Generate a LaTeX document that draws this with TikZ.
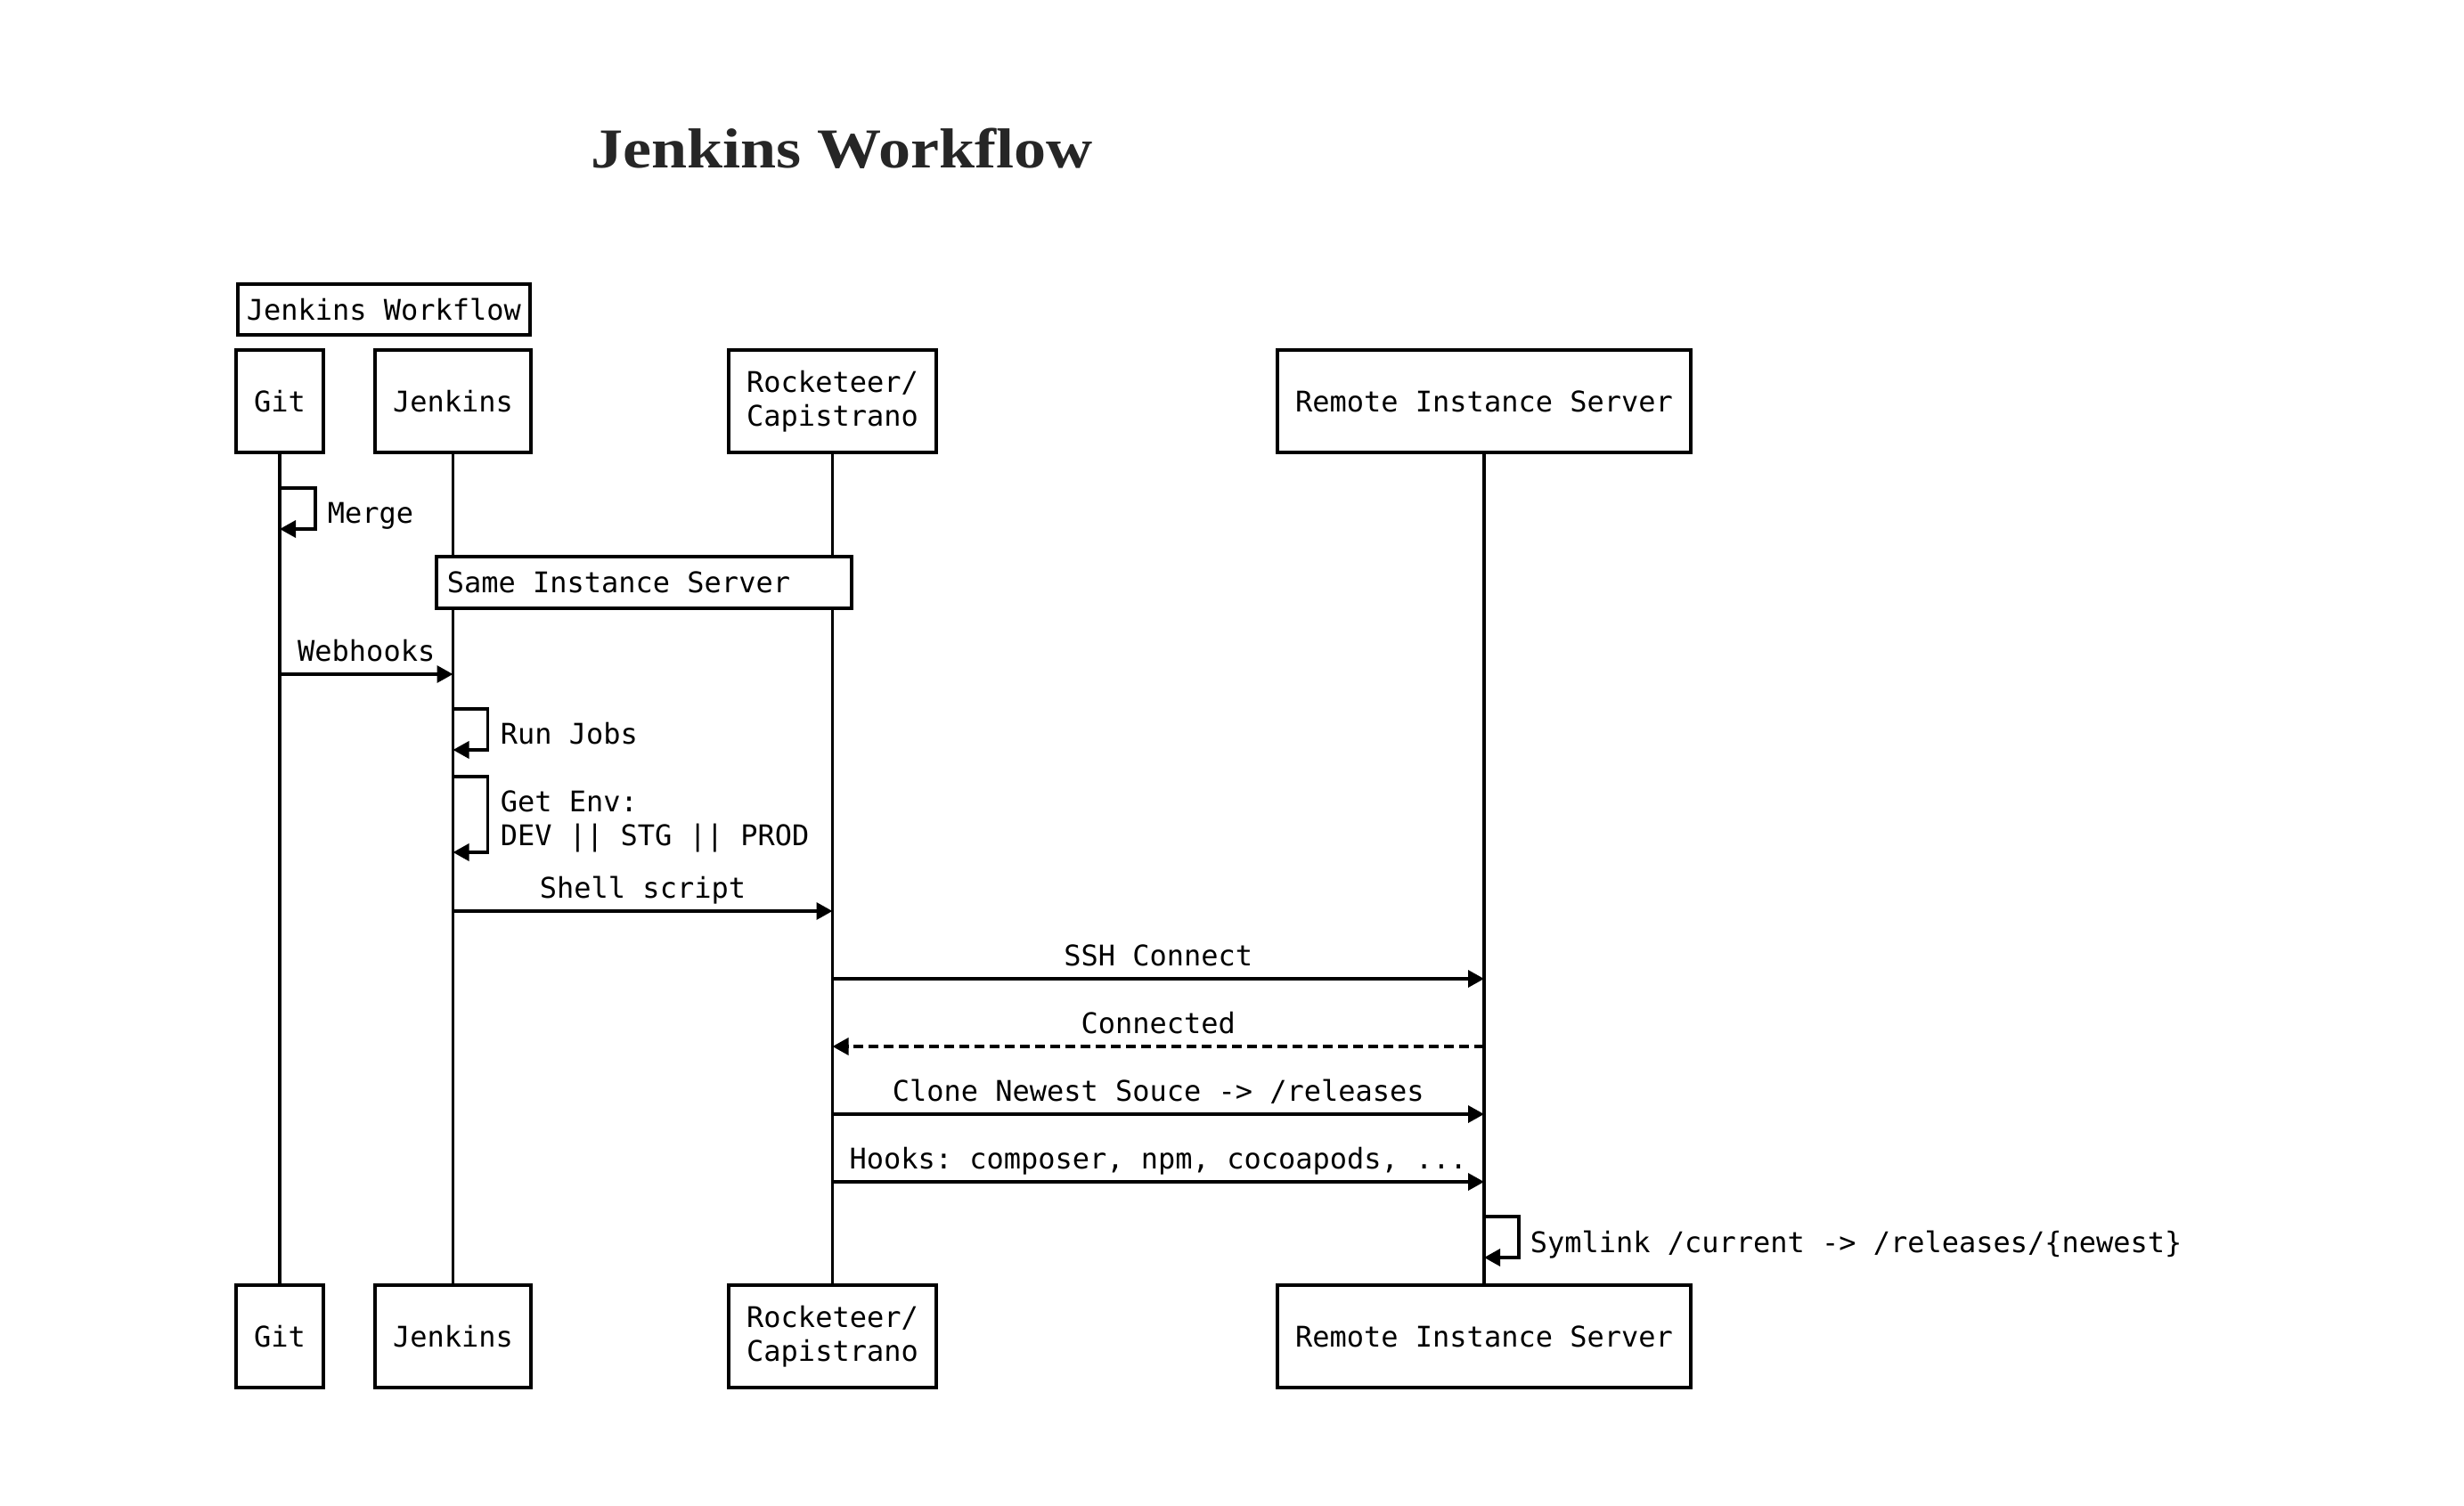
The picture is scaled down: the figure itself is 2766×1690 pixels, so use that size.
\documentclass[tikz,border=0pt]{standalone}
\usepackage{fontspec}
\usepackage{graphicx}
\setmonofont{DejaVu Sans Mono}
\newfontfamily\titlefont{Liberation Serif}
\usetikzlibrary{arrows.meta}
\newcommand\seqfont{\fontsize{9.1}{10.8}\selectfont\ttfamily}
\tikzset{
  actor/.style={draw, line width=1.1pt, minimum height=11.5mm, inner xsep=2mm, align=center, font=\seqfont},
  note box/.style={draw, line width=1.1pt, fill=white, minimum height=5.7mm, inner xsep=1mm, font=\seqfont},
  msg/.style={line width=1pt, -{Triangle[length=1.8mm, width=1.9mm]}},
  reply/.style={msg, dash pattern=on 1.1mm off 0.6mm},
  lbl/.style={anchor=base, yshift=1.5mm, font=\seqfont},
  side lbl/.style={anchor=base west, font=\seqfont, align=flush left, inner sep=0pt}
}

\begin{document}
\begin{tikzpicture}[x=0.1mm, y=-0.1mm, line width=1pt]
\useasboundingbox (0,0) rectangle (2766,1690);

\node[anchor=base, text=black!85, font={\fontsize{18}{20}\titlefont\bfseries}] (title) at (945,188) {\scalebox{1.14}[1]{Jenkins Workflow}};
\node[note box, anchor=north west] (wf) at (265,317) {Jenkins Workflow};

% participants, top and bottom
\node[actor] (git) at (314,450.5) {Git};
\node[actor] (jenkins) at (508.5,450.5) {Jenkins};
\node[actor] (rock) at (934.5,450.5) {Rocketeer/\\Capistrano};
\node[actor] (remote) at (1666,450.5) {Remote Instance Server};

\node[actor] (gitB) at (314,1500.5) {Git};
\node[actor] (jenkinsB) at (508.5,1500.5) {Jenkins};
\node[actor] (rockB) at (934.5,1500.5) {Rocketeer/\\Capistrano};
\node[actor] (remoteB) at (1666,1500.5) {Remote Instance Server};

% lifelines
\draw (git) -- (gitB);
\draw (jenkins) -- (jenkinsB);
\draw (rock) -- (rockB);
\draw (remote) -- (remoteB);

\node[note box, anchor=north west, minimum height=5.8mm, text width=44.2mm, inner xsep=1.2mm, align=flush left] (same) at (488,623) {Same Instance Server};

% messages
\draw[msg] (git.south |- 0,548) -- ++(40,0) -- ++(0,46) -- (git.south |- 0,594);
\node[side lbl] (merge) at (366,587) {Merge};

\draw[msg] (git.south |- 0,757) -- node[lbl] {Webhooks} (jenkins.south |- 0,757);

\draw[msg] (jenkins.south |- 0,796) -- ++(39,0) -- ++(0,46) -- (jenkins.south |- 0,842);
\node[side lbl] (runjobs) at (560,835) {Run Jobs};

\draw[msg] (jenkins.south |- 0,872) -- ++(39,0) -- ++(0,85) -- (jenkins.south |- 0,957);
\node[side lbl] (getenv) at (560,949) {Get Env:\\DEV || STG || PROD};

\draw[msg] (jenkins.south |- 0,1023) -- node[lbl] {Shell script} (rock.south |- 0,1023);
\draw[msg] (rock.south |- 0,1099) -- node[lbl] {SSH Connect} (remote.south |- 0,1099);
\draw[reply] (remote.south |- 0,1175) -- node[lbl] {Connected} (rock.south |- 0,1175);
\draw[msg] (rock.south |- 0,1251) -- node[lbl] {Clone Newest Souce -> /releases} (remote.south |- 0,1251);
\draw[msg] (rock.south |- 0,1327) -- node[lbl] {Hooks: composer, npm, cocoapods, ...} (remote.south |- 0,1327);

\draw[msg] (remote.south |- 0,1366) -- ++(39,0) -- ++(0,46) -- (remote.south |- 0,1412);
\node[side lbl] (symlink) at (1716,1406) {Symlink /current -> /releases/\{newest\}};

\end{tikzpicture}
\end{document}
